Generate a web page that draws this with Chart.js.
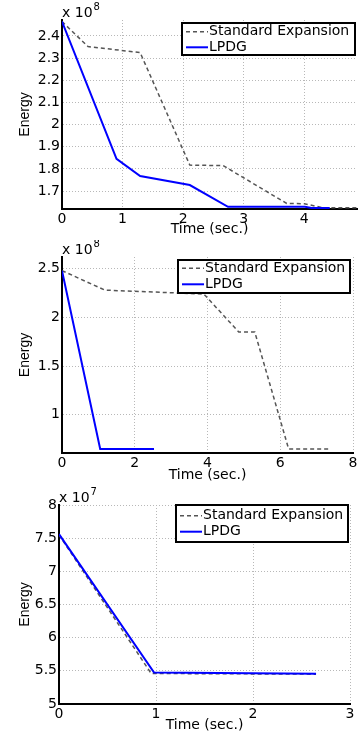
<!DOCTYPE html>
<html>
<head>
<meta charset="utf-8">
<script src="https://cdn.jsdelivr.net/npm/chart.js@4/dist/chart.umd.min.js"></script>
<style>
body { margin: 0; background: #fff; width: 362px; height: 736px; position: relative; overflow: hidden; }
.panel { position: absolute; left: 0; width: 362px; }
</style>
</head>
<body>
<div class="panel" style="top:0;height:240px"><canvas id="c1"></canvas></div>
<div class="panel" style="top:240px;height:246px"><canvas id="c2"></canvas></div>
<div class="panel" style="top:480px;height:256px"><canvas id="c3"></canvas></div>
<script>
// panel 1 (energy in units of 1e8)
var std1X = [0, 0.43, 1.29, 2.11, 2.66, 3.71, 4.0, 4.3, 4.87];
var std1Y = [2.465, 2.352, 2.325, 1.817, 1.815, 1.644, 1.643, 1.625, 1.625];
var lp1X = [0, 0.90, 1.29, 2.11, 2.74, 4.01, 4.12, 4.42];
var lp1Y = [2.465, 1.845, 1.768, 1.727, 1.629, 1.629, 1.624, 1.624];
var xTicks1 = [0, 1, 2, 3, 4];
var yTicks1 = [1.7, 1.8, 1.9, 2, 2.1, 2.2, 2.3, 2.4];

// panel 2 (units of 1e8)
var std2X = [0, 1.18, 3.9, 4.86, 5.3, 6.23, 7.33];
var std2Y = [2.48, 2.28, 2.24, 1.85, 1.85, 0.65, 0.65];
var lp2X = [0, 1.05, 2.53];
var lp2Y = [2.48, 0.65, 0.65];
var xTicks2 = [0, 2, 4, 6, 8];
var yTicks2 = [1, 1.5, 2, 2.5];

// panel 3 (units of 1e7)
var std3X = [0, 0.95, 2.65];
var std3Y = [7.55, 5.46, 5.45];
var lp3X = [0, 0.98, 2.65];
var lp3Y = [7.56, 5.475, 5.455];
var xTicks3 = [0, 1, 2, 3];
var yTicks3 = [5, 5.5, 6, 6.5, 7, 7.5, 8];

var seriesNames = ['Standard Expansion', 'LPDG'];

var textFont = { family: 'DejaVu Sans', size: 14 };

// framed legend + "x 10^n" label, like the matlab figure
var boxLegend = {
    id: 'boxLegend',
    afterDatasetsDraw: function(chart, args, opts) {
        var ctx = chart.ctx;
        ctx.save();
        ctx.fillStyle = '#fff';
        ctx.fillRect(opts.x, opts.y, opts.w, opts.h);
        ctx.lineWidth = 2;
        ctx.strokeStyle = '#000';
        ctx.strokeRect(opts.x, opts.y, opts.w, opts.h);
        ctx.font = '14px "DejaVu Sans"';
        ctx.textBaseline = 'middle';
        chart.data.datasets.forEach(function(ds, i) {
            var cy = opts.y + opts.rows[i];
            ctx.beginPath();
            ctx.setLineDash(ds.borderDash || []);
            ctx.strokeStyle = ds.borderColor;
            ctx.lineWidth = ds.borderWidth;
            ctx.moveTo(opts.x + 4, cy);
            ctx.lineTo(opts.x + 26, cy);
            ctx.stroke();
            ctx.setLineDash([]);
            ctx.fillStyle = '#000';
            ctx.fillText(ds.label, opts.x + 27, cy);
        });
        // exponent label
        var a = chart.chartArea;
        ctx.textBaseline = 'alphabetic';
        ctx.font = '14px "DejaVu Sans"';
        ctx.fillText('x 10', a.left, a.top - 3);
        var w = ctx.measureText('x 10').width;
        ctx.font = '10px "DejaVu Sans"';
        ctx.fillText(opts.exp, a.left + w + 1, a.top - 10);
        ctx.restore();
    }
};

function points(xs, ys, scale) {
    return xs.map(function(x, i) { return { x: x, y: ys[i] * scale }; });
}

function makeChart(id, stdX, stdY, lpX, lpY, xMax, yMin, yMax, xTicks, yTicks, scale, layout, legend) {
    new Chart(document.getElementById(id).getContext('2d'), {
        type: 'line',
        data: {
            datasets: [{
                label: seriesNames[0],
                data: points(stdX, stdY, scale),
                borderColor: '#555555',
                borderWidth: 1.5,
                borderDash: [4, 3],
                pointRadius: 0,
                tension: 0,
                order: 2
            }, {
                label: seriesNames[1],
                data: points(lpX, lpY, scale),
                borderColor: '#0000ff',
                borderWidth: 2,
                pointRadius: 0,
                tension: 0,
                order: 1
            }]
        },
        options: {
            responsive: true,
            maintainAspectRatio: false,
            animation: false,
            layout: { padding: { top: layout.top, right: layout.right, left: 0, bottom: 0 } },
            plugins: {
                legend: { display: false },
                tooltip: { enabled: false },
                boxLegend: legend
            },
            scales: {
                x: {
                    type: 'linear',
                    min: 0,
                    max: xMax,
                    afterBuildTicks: function(s) { s.ticks = xTicks.map(function(v) { return { value: v }; }); },
                    afterFit: function(s) { s.height = layout.xh; },
                    ticks: { color: '#000', font: textFont, padding: 2, maxRotation: 0, autoSkip: false,
                        callback: function(v) { return String(v); } },
                    grid: { color: '#b8b8b8', lineWidth: 1, drawTicks: false },
                    border: { display: true, color: '#000', width: 2, dash: [1, 2] },
                    title: { display: true, text: 'Time (sec.)', color: '#000', font: textFont, padding: { top: 0, bottom: 2 } }
                },
                y: {
                    type: 'linear',
                    min: yMin * scale,
                    max: yMax * scale,
                    afterBuildTicks: function(s) { s.ticks = yTicks.map(function(v) { return { value: v * scale }; }); },
                    afterFit: function(s) { s.width = layout.yw; },
                    ticks: { color: '#000', font: textFont, padding: 2,
                        callback: function(v) { return String(Math.round(v / scale * 100) / 100); } },
                    grid: { color: '#b8b8b8', lineWidth: 1, drawTicks: false },
                    border: { display: true, color: '#000', width: 2, dash: [1, 2] },
                    title: { display: true, text: 'Energy', color: '#000', font: { family: 'Liberation Sans', size: 14 }, padding: { top: 17, bottom: 0 } }
                }
            }
        },
        plugins: [boxLegend]
    });
}

makeChart('c1', std1X, std1Y, lp1X, lp1Y, 4.87, 1.619, 2.472, xTicks1, yTicks1, 1e8,
    { top: 20, right: 5, yw: 62, xh: 31 },
    { x: 182, y: 23, w: 173, h: 32, rows: [8.7, 24.3], exp: '8' });
makeChart('c2', std2X, std2Y, lp2X, lp2Y, 8, 0.608, 2.62, xTicks2, yTicks2, 1e8,
    { top: 17, right: 9, yw: 62, xh: 33 },
    { x: 178, y: 20, w: 172, h: 33, rows: [8.3, 24.3], exp: '8' });
makeChart('c3', std3X, std3Y, lp3X, lp3Y, 3, 5, 8, xTicks3, yTicks3, 1e7,
    { top: 25, right: 12, yw: 59, xh: 32 },
    { x: 176, y: 25, w: 172, h: 37, rows: [10.7, 26.7], exp: '7' });
</script>
</body>
</html>
